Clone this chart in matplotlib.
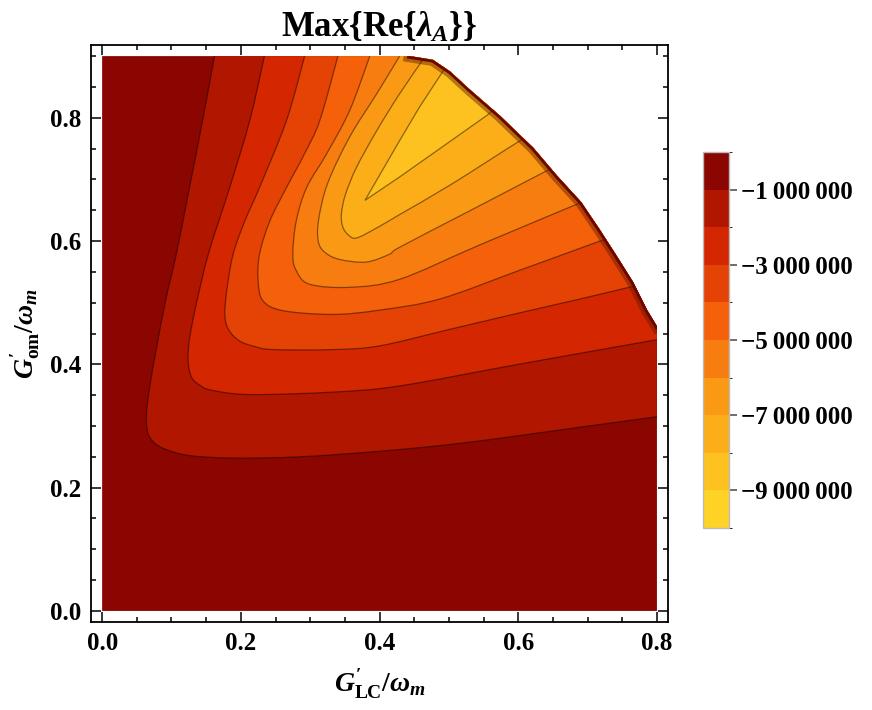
import numpy as np
import matplotlib.pyplot as plt
from matplotlib.colors import ListedColormap, BoundaryNorm
from matplotlib.cm import ScalarMappable
from matplotlib.patches import Polygon, PathPatch
from matplotlib.path import Path
from matplotlib.ticker import MultipleLocator

plt.rcParams['font.family'] = ['Liberation Serif', 'DejaVu Serif']
plt.rcParams['font.weight'] = 'bold'
plt.rcParams['mathtext.fontset'] = 'custom'
plt.rcParams['mathtext.rm'] = 'Liberation Serif:bold'
plt.rcParams['mathtext.it'] = 'Liberation Serif:italic:bold'
plt.rcParams['mathtext.bf'] = 'Liberation Serif:bold'

# Contour levels and band colours (lowest band first)
levels = [-1e7, -9e6, -8e6, -7e6, -6e6, -5e6, -4e6, -3e6, -2e6, -1e6, 0]
band_colors = ['#FED325', '#FDC21F', '#FCAE18', '#FA9A14', '#F87D10',
               '#F5600B', '#E54306', '#D42600', '#B01600', '#8B0601']
cbar_ticks = [-9e6, -7e6, -5e6, -3e6, -1e6]

# Contour lines (G'_LC, G'_om)
c1_x = [0.162, 0.145, 0.126, 0.107, 0.092, 0.078, 0.068, 0.064, 0.066, 0.075,
        0.092, 0.126, 0.188, 0.285, 0.400, 0.502, 0.592, 0.689, 0.800]
c1_y = [0.900, 0.796, 0.687, 0.579, 0.506, 0.424, 0.359, 0.319, 0.289, 0.273,
        0.262, 0.252, 0.248, 0.250, 0.259, 0.270, 0.283, 0.298, 0.315]

c2_x = [0.234, 0.213, 0.184, 0.154, 0.136, 0.126, 0.124, 0.129, 0.141, 0.158,
        0.213, 0.333, 0.429, 0.600, 0.800]
c2_y = [0.900, 0.796, 0.687, 0.582, 0.499, 0.441, 0.405, 0.379, 0.366, 0.358,
        0.351, 0.355, 0.365, 0.400, 0.440]

c3_x = [0.292, 0.266, 0.227, 0.206, 0.189, 0.180, 0.177, 0.182, 0.198, 0.220,
        0.246, 0.333, 0.400, 0.502, 0.600, 0.689, 0.767, 0.783]
c3_y = [0.900, 0.796, 0.687, 0.633, 0.579, 0.522, 0.481, 0.457, 0.438, 0.429,
        0.424, 0.424, 0.430, 0.457, 0.483, 0.506, 0.527, 0.532]

c4_x = [0.340, 0.314, 0.292, 0.266, 0.242, 0.227, 0.225, 0.232, 0.261, 0.333,
        0.400, 0.487, 0.603, 0.713, 0.735]
c4_y = [0.900, 0.796, 0.742, 0.687, 0.633, 0.579, 0.535, 0.503, 0.487, 0.481,
        0.488, 0.506, 0.553, 0.598, 0.607]

c5_x = [0.386, 0.357, 0.324, 0.295, 0.280, 0.275, 0.280, 0.299, 0.357, 0.429,
        0.545, 0.685, 0.701]
c5_y = [0.900, 0.812, 0.742, 0.687, 0.633, 0.579, 0.552, 0.530, 0.525, 0.538,
        0.594, 0.660, 0.668]

c6_x = [0.429, 0.396, 0.357, 0.325, 0.312, 0.312, 0.322, 0.343, 0.381, 0.415,
        0.429, 0.530, 0.641, 0.655]
c6_y = [0.900, 0.839, 0.769, 0.693, 0.633, 0.598, 0.581, 0.570, 0.566, 0.579,
        0.590, 0.649, 0.714, 0.722]

c7_x = [0.465, 0.429, 0.396, 0.367, 0.351, 0.345, 0.347, 0.355, 0.367, 0.397,
        0.429, 0.502, 0.600, 0.614]
c7_y = [0.898, 0.839, 0.779, 0.720, 0.676, 0.644, 0.623, 0.610, 0.605, 0.622,
        0.643, 0.691, 0.761, 0.769]

# innermost level has a sharp tip, drawn without smoothing
c8_x = [0.497, 0.458, 0.429, 0.379, 0.429, 0.487, 0.555, 0.569]
c8_y = [0.885, 0.818, 0.763, 0.666, 0.704, 0.750, 0.804, 0.818]

contours = [(c1_x, c1_y, True), (c2_x, c2_y, True), (c3_x, c3_y, True),
            (c4_x, c4_y, True), (c5_x, c5_y, True), (c6_x, c6_y, True),
            (c7_x, c7_y, True), (c8_x, c8_y, False)]

# Edge of the computed region in the upper right corner
edge_x = [0.444, 0.477, 0.502, 0.530, 0.574, 0.622, 0.656, 0.691, 0.718,
          0.742, 0.766, 0.786, 0.800]
edge_y = [0.900, 0.894, 0.875, 0.846, 0.803, 0.751, 0.706, 0.663, 0.618,
          0.576, 0.533, 0.488, 0.462]


def curve_path(xs, ys, smooth):
    """Vertices/codes through the points, as Bezier pieces when smooth."""
    pts = np.column_stack([xs, ys])
    verts = [pts[0]]
    codes = [Path.MOVETO]
    n = len(pts)
    for i in range(n - 1):
        if not smooth:
            verts.append(pts[i + 1])
            codes.append(Path.LINETO)
            continue
        p0 = pts[i - 1] if i > 0 else pts[i]
        p1, p2 = pts[i], pts[i + 1]
        p3 = pts[i + 2] if i + 2 < n else pts[i + 1]
        verts += [p1 + (p2 - p0) / 6, p2 - (p3 - p1) / 6, p2]
        codes += [Path.CURVE4] * 3
    return verts, codes


fig = plt.figure(figsize=(8.72, 7.10), dpi=100)
ax = fig.add_axes([0.1044, 0.1239, 0.6617, 0.8127])

# region where the function is defined
domain_pts = [(0, 0), (0.8, 0)] + list(zip(edge_x[::-1], edge_y[::-1])) + [(0, 0.9)]
domain = Polygon(domain_pts, closed=True, facecolor=band_colors[-1],
                 edgecolor='none', zorder=1)
ax.add_patch(domain)

# fill each lower-value region on top of the previous one
for i, (cx, cy, smooth) in enumerate(contours):
    verts, codes = curve_path(cx, cy, smooth)
    if cy[0] >= 0.9:
        verts = [(cx[0], 0.96)] + verts
        codes = [Path.MOVETO, Path.LINETO] + codes[1:]
    if cx[-1] >= 0.8:
        verts = verts + [(0.86, cy[-1])]
        codes = codes + [Path.LINETO]
    verts = verts + [(1.5, 1.5), (0, 0)]
    codes = codes + [Path.LINETO, Path.CLOSEPOLY]
    band = PathPatch(Path(verts, codes), facecolor=band_colors[8 - i],
                     edgecolor='none', zorder=2 + i)
    ax.add_patch(band)
    band.set_clip_path(domain)

for cx, cy, smooth in contours:
    verts, codes = curve_path(cx, cy, smooth)
    ln = PathPatch(Path(verts, codes), facecolor='none', edgecolor='black',
                   lw=0.9, alpha=0.45, zorder=20)
    ax.add_patch(ln)
    ln.set_clip_path(domain)

# dark rim along the cut-off edge
rim1, = ax.plot(edge_x, edge_y, color='#5a1a00', lw=9, alpha=0.45, zorder=21)
rim2, = ax.plot(edge_x, edge_y, color='#6e0600', lw=4, zorder=22)
rim1.set_clip_path(domain)
rim2.set_clip_path(domain)

ax.set_xlim(-0.016, 0.816)
ax.set_ylim(-0.018, 0.918)
ax.xaxis.set_major_locator(MultipleLocator(0.2))
ax.xaxis.set_minor_locator(MultipleLocator(0.05))
ax.yaxis.set_major_locator(MultipleLocator(0.2))
ax.yaxis.set_minor_locator(MultipleLocator(0.05))
ax.xaxis.set_major_formatter(lambda v, p: f"{v:.1f}")
ax.yaxis.set_major_formatter(lambda v, p: f"{v:.1f}")
ax.tick_params(which='both', direction='in', top=True, right=True, width=1.1)
ax.tick_params(which='major', length=7, labelsize=18, pad=7)
ax.tick_params(which='minor', length=3.5)
for sp in ax.spines.values():
    sp.set_linewidth(1.3)

ax.set_title(r"Max{Re{$\lambda_{A}$}}", fontsize=25, fontweight='bold', pad=5)
ax.set_xlabel(r"$G^{\prime}_{\mathrm{LC}}/\omega_m$", fontsize=20, labelpad=9)
ax.set_ylabel(r"$G^{\prime}_{\mathrm{om}}/\omega_m$", fontsize=20, labelpad=6)

# colour bar
cax = fig.add_axes([0.8062, 0.2563, 0.0298, 0.5296])
sm = ScalarMappable(norm=BoundaryNorm(levels, len(band_colors)),
                    cmap=ListedColormap(band_colors))
cb = fig.colorbar(sm, cax=cax, ticks=cbar_ticks)
cb.ax.set_yticklabels(['\u2212' + f"{int(abs(v)):,}".replace(',', '\u2009')
                       for v in cbar_ticks])
cb.ax.tick_params(direction='out', length=6, width=1.2, color='#555555',
                  labelsize=18, pad=3)
cb.outline.set_edgecolor('#bbbbbb')
cb.outline.set_linewidth(1)

fig.savefig('out.png', dpi=100)
